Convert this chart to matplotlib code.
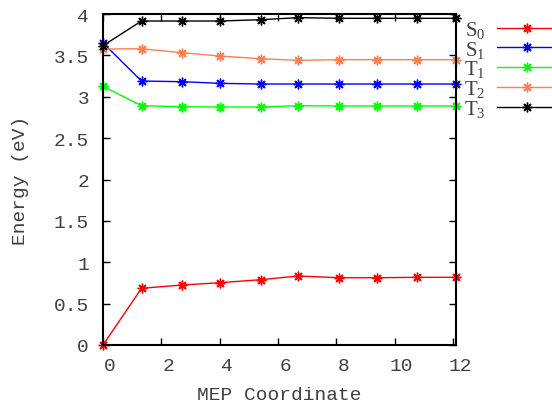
import matplotlib
matplotlib.use("Agg")
import matplotlib.pyplot as plt
import matplotlib.transforms as mtransforms

# MEP coordinate values
mep = [0.0, 1.32, 2.71, 4.00, 5.40, 6.69, 8.09, 9.38, 10.77, 12.09]

# State energies (eV)
S0 = [0.00, 0.685, 0.725, 0.753, 0.789, 0.834, 0.813, 0.813, 0.818, 0.818]
S1 = [3.65, 3.19, 3.182, 3.162, 3.154, 3.154, 3.154, 3.154, 3.154, 3.154]
T1 = [3.126, 2.892, 2.880, 2.876, 2.876, 2.892, 2.888, 2.888, 2.888, 2.888]
T2 = [3.577, 3.580, 3.532, 3.492, 3.460, 3.440, 3.448, 3.448, 3.448, 3.448]
T3 = [3.617, 3.915, 3.915, 3.915, 3.931, 3.956, 3.948, 3.948, 3.948, 3.948]

labels = [r"$\mathregular{S_0}$", r"$\mathregular{S_1}$", r"$\mathregular{T_1}$",
          r"$\mathregular{T_2}$", r"$\mathregular{T_3}$"]
series = [S0, S1, T1, T2, T3]
colors = ["#ff0000", "#0000ff", "#00ff00", "#ff7f50", "#000000"]

xticks = [0, 2, 4, 6, 8, 10, 12]
yticks = [0, 0.5, 1, 1.5, 2, 2.5, 3, 3.5, 4]
yticklabels = ["0", "0.5", "1", "1.5", "2", "2.5", "3", "3.5", "4"]

DPI = 100
fig = plt.figure(figsize=(5.52, 4.06), dpi=DPI)
ax = fig.add_axes([103 / 552, 1 - 346 / 406, (455.7 - 103) / 552, (346 - 15) / 406])

mono = "Liberation Mono"
gray = "#404040"

lines = []
for ys, c, lab in zip(series, colors, labels):
    ln, = ax.plot(mep, ys, color=c, lw=1.0, marker=(8, 2, 0), markersize=7,
                  markeredgewidth=1.0, label=lab, clip_on=False)
    lines.append(ln)

ax.set_xlim(0, 12.09)
ax.set_ylim(0, 4)
ax.set_xticks(xticks)
ax.set_xticklabels([str(t) for t in xticks], family=mono, fontsize=14, color=gray)
ax.set_yticks(yticks)
ax.set_yticklabels(yticklabels, family=mono, fontsize=14, color=gray)
ax.tick_params(direction="in", length=5, width=1, top=True, right=True, colors="black",
               labelcolor=gray)
ax.tick_params(axis="x", pad=9)
ax.tick_params(axis="y", pad=10)
for sp in ax.spines.values():
    sp.set_linewidth(1.5)

# shift x tick labels to the right a bit (gnuplot-like placement)
off = mtransforms.ScaledTranslation(7 / DPI, 0, fig.dpi_scale_trans)
for lbl in ax.get_xticklabels():
    lbl.set_transform(lbl.get_transform() + off)

ax.set_xlabel("MEP Coordinate", family=mono, fontsize=14, color=gray, labelpad=8)
ax.set_ylabel("Energy (eV)", family=mono, fontsize=14, color=gray, labelpad=18)

leg = fig.legend(lines, labels, loc="upper left", bbox_to_anchor=(464 / 552, 1 - 20 / 406),
                 frameon=False, markerfirst=False, handlelength=2.9, handletextpad=0.55,
                 labelspacing=-0.06, borderpad=0, borderaxespad=0,
                 prop={"family": "Liberation Serif", "size": 15})
for t in leg.get_texts():
    t.set_color(gray)

fig.savefig("out.png", dpi=DPI)
